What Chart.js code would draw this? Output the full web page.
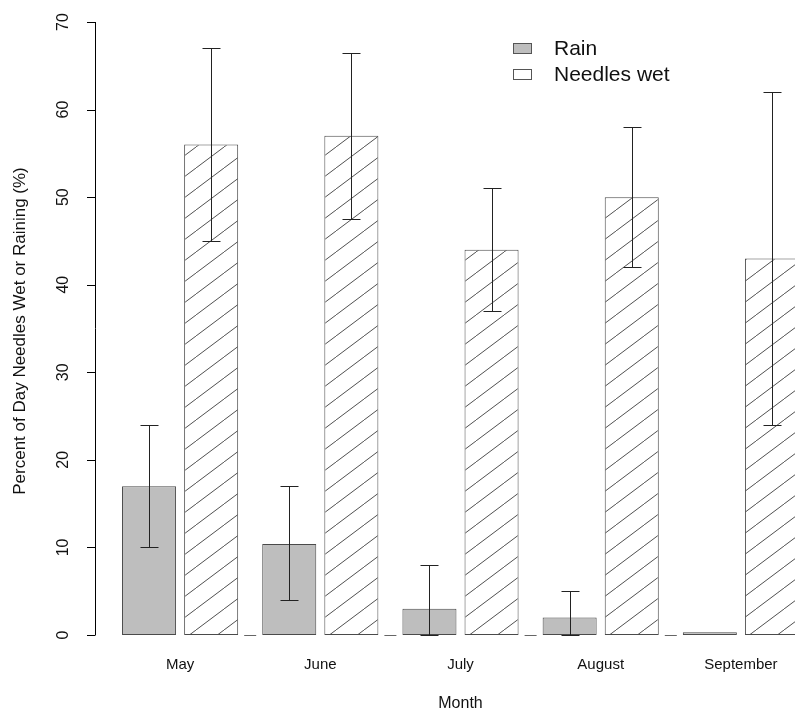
<!DOCTYPE html>
<html>
<head>
<meta charset="utf-8">
<script src="https://cdn.jsdelivr.net/npm/chart.js@4/dist/chart.umd.min.js"></script>
<style>
  html, body { margin: 0; padding: 0; background: #fff; overflow: hidden; }
  #wrap { width: 811px; height: 713px; position: relative; }
</style>
</head>
<body>
<div id="wrap"><canvas id="grafico"></canvas></div>
<script>
// dados por mês
const meses = ['May', 'June', 'July', 'August', 'September'];
const chuva = [17, 10.4, 3, 2, 0.3];
const chuvaMin = [10, 4, 0, 0, null];
const chuvaMax = [24, 17, 8, 5, null];
const agulhas = [56, 57, 44, 50, 43];
const agulhasMin = [45, 47.5, 37, 42, 24];
const agulhasMax = [67, 66.5, 51, 58, 62];
const ticksY = [0, 10, 20, 30, 40, 50, 60, 70];

const FONTE = '"Liberation Sans", Arial, sans-serif';

// padrão de hachura diagonal para as barras de agulhas molhadas
function criarHachura() {
    const c = document.createElement('canvas');
    c.width = 28; c.height = 21;
    const g = c.getContext('2d');
    g.fillStyle = '#fff';
    g.fillRect(0, 0, 28, 21);
    g.strokeStyle = '#3c3c3c';
    g.lineWidth = 0.9;
    g.beginPath();
    g.moveTo(-28, 42); g.lineTo(56, -21);
    g.stroke();
    return g.createPattern(c, 'repeat');
}

// eixo Y desenhado à parte (fica afastado da área das barras)
const eixoY = {
    id: 'eixoY',
    afterDraw(chart) {
        const ctx = chart.ctx;
        const y = chart.scales.y;
        const xEixo = 95.5;
        ctx.save();
        ctx.strokeStyle = '#000';
        ctx.lineWidth = 1;
        ctx.beginPath();
        ctx.moveTo(xEixo, y.getPixelForValue(ticksY[0]));
        ctx.lineTo(xEixo, y.getPixelForValue(ticksY[ticksY.length - 1]));
        ticksY.forEach(v => {
            const py = Math.round(y.getPixelForValue(v)) + 0.5;
            ctx.moveTo(xEixo, py);
            ctx.lineTo(87, py);
        });
        ctx.stroke();

        ctx.fillStyle = '#111';
        ctx.font = '16px ' + FONTE;
        ctx.textAlign = 'center';
        ctx.textBaseline = 'middle';
        ticksY.forEach(v => {
            ctx.save();
            ctx.translate(64, y.getPixelForValue(v));
            ctx.rotate(-Math.PI / 2);
            ctx.fillText(String(v), 0, 0);
            ctx.restore();
        });

        ctx.font = '17px ' + FONTE;
        ctx.save();
        ctx.translate(20, 331);
        ctx.rotate(-Math.PI / 2);
        ctx.fillText('Percent of Day Needles Wet or Raining (%)', 0, 0);
        ctx.restore();
        ctx.restore();
    }
};

// barras de erro + tracinhos entre os grupos
const barrasErro = {
    id: 'barrasErro',
    afterDatasetsDraw(chart) {
        const ctx = chart.ctx;
        const y = chart.scales.y;
        const x = chart.scales.x;
        const limites = [[chuvaMin, chuvaMax], [agulhasMin, agulhasMax]];
        ctx.save();
        ctx.strokeStyle = '#222';
        ctx.lineWidth = 1;
        limites.forEach(([lo, hi], d) => {
            chart.getDatasetMeta(d).data.forEach((bar, i) => {
                if (lo[i] == null) return;
                const bx = Math.round(bar.x) + 0.5;
                const y1 = Math.round(y.getPixelForValue(lo[i])) + 0.5;
                const y2 = Math.round(y.getPixelForValue(hi[i])) + 0.5;
                ctx.beginPath();
                ctx.moveTo(bx, y1); ctx.lineTo(bx, y2);
                ctx.moveTo(bx - 9, y1); ctx.lineTo(bx + 9, y1);
                ctx.moveTo(bx - 9, y2); ctx.lineTo(bx + 9, y2);
                ctx.stroke();
            });
        });

        ctx.strokeStyle = '#666';
        const y0 = Math.round(y.getPixelForValue(0)) + 0.5;
        meses.forEach((m, i) => {
            const c = x.getPixelForValue(i);
            const meio = c + (x.getPixelForValue(1) - x.getPixelForValue(0)) / 2;
            ctx.beginPath();
            ctx.moveTo(meio - 6, y0); ctx.lineTo(meio + 6, y0);
            ctx.stroke();
        });
        ctx.restore();
    }
};

// legenda no canto superior
const legenda = {
    id: 'legenda',
    afterDraw(chart) {
        const ctx = chart.ctx;
        const itens = [
            { texto: 'Rain', cor: '#bebebe', y: 43.5 },
            { texto: 'Needles wet', cor: '#fff', y: 69.5 }
        ];
        ctx.save();
        ctx.font = '21px ' + FONTE;
        ctx.textBaseline = 'middle';
        ctx.textAlign = 'left';
        itens.forEach(it => {
            ctx.fillStyle = it.cor;
            ctx.fillRect(513.5, it.y, 18, 10);
            ctx.strokeStyle = '#555';
            ctx.lineWidth = 1;
            ctx.strokeRect(513.5, it.y, 18, 10);
            ctx.fillStyle = '#111';
            ctx.fillText(it.texto, 554, it.y + 6);
        });
        ctx.restore();
    }
};

new Chart(document.getElementById('grafico'), {
    type: 'bar',
    data: {
        labels: meses,
        datasets: [
            {
                label: 'Rain',
                data: chuva,
                backgroundColor: '#bebebe',
                borderColor: '#4a4a4a',
                borderWidth: 1,
                borderSkipped: false,
                barPercentage: 0.87,
                categoryPercentage: 0.886
            },
            {
                label: 'Needles wet',
                data: agulhas,
                backgroundColor: criarHachura(),
                borderColor: '#4a4a4a',
                borderWidth: 1,
                borderSkipped: false,
                barPercentage: 0.87,
                categoryPercentage: 0.886
            }
        ]
    },
    options: {
        responsive: true,
        maintainAspectRatio: false,
        animation: false,
        layout: { padding: { left: 110, top: 22, right: 0, bottom: 0 } },
        plugins: {
            legend: { display: false },
            tooltip: { enabled: false }
        },
        scales: {
            x: {
                grid: { display: false, drawTicks: false },
                border: { display: false },
                ticks: { color: '#111', font: { family: FONTE, size: 15 }, padding: 21 },
                title: { display: true, text: 'Month', color: '#111', font: { family: FONTE, size: 16 }, padding: { top: 0, bottom: 0 } },
                afterFit(s) { s.height = 78; }
            },
            y: {
                display: false,
                min: 0,
                max: 70
            }
        }
    },
    plugins: [eixoY, barrasErro, legenda]
});
</script>
</body>
</html>
